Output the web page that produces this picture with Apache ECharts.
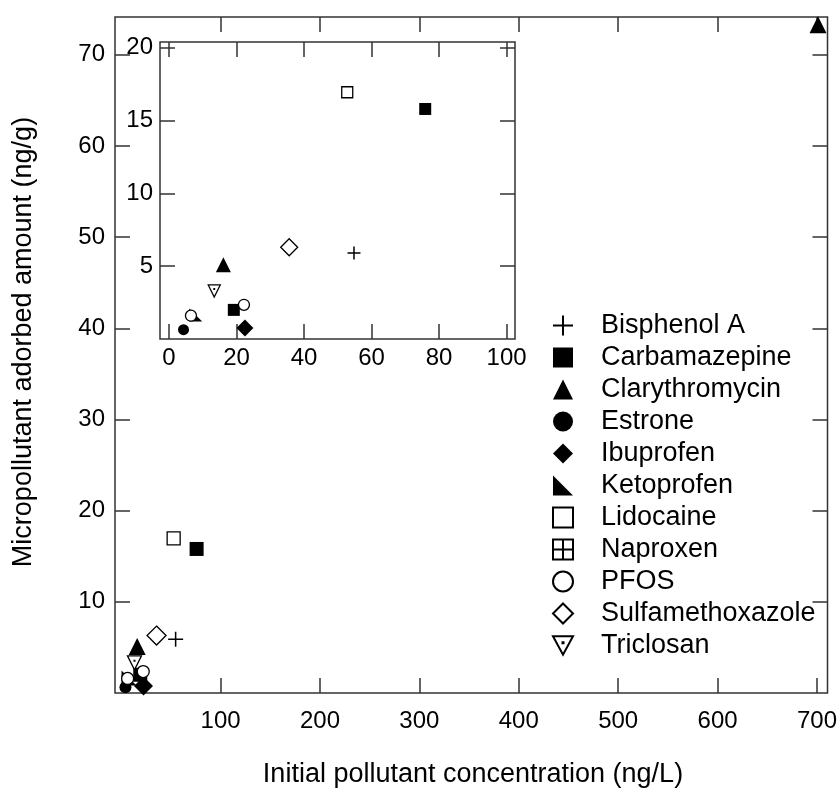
<!DOCTYPE html>
<html>
<head>
<meta charset="utf-8">
<script src="https://cdn.jsdelivr.net/npm/echarts@6/dist/echarts.min.js"></script>
<style>html,body{margin:0;padding:0;background:#fff}#c{width:840px;height:789px}</style>
</head>
<body>
<div id="c"></div>
<script>
// ---- data ----
const pollutants = ['Bisphenol A', 'Carbamazepine', 'Clarythromycin', 'Estrone', 'Ibuprofen', 'Ketoprofen', 'Lidocaine', 'Naproxen', 'PFOS', 'Sulfamethoxazole', 'Triclosan'];
const bisphenolA = [[54.8, 5.9]];
const carbamazepine = [[75.9, 15.8], [19.2, 2.0]];
const clarythromycin = [[16.1, 5.1], [701, 73.3]];
const estrone = [[4.3, 0.64]];
const ibuprofen = [[22.5, 0.76]];
const ketoprofen = [[7.9, 1.65]];
const lidocaine = [[52.8, 16.95]];
const naproxen = [];
const pfos = [[6.5, 1.6], [22.2, 2.35]];
const sulfamethoxazole = [[35.6, 6.3]];
const triclosan = [[13.4, 3.3]];
const mainXTicks = [100, 200, 300, 400, 500, 600, 700];
const mainYTicks = [10, 20, 30, 40, 50, 60, 70];
const insetXTicks = [0, 20, 40, 60, 80, 100];
const insetYTicks = [5, 10, 15, 20];
const xTitle = 'Initial pollutant concentration (ng/L)';
const yTitle = 'Micropollutant adorbed amount (ng/g)';

const FONT = 'Liberation Sans, Arial, sans-serif';
const seriesData = [bisphenolA, carbamazepine, clarythromycin, estrone, ibuprofen, ketoprofen, lidocaine, naproxen, pfos, sulfamethoxazole, triclosan];

const filled = {color: '#000', opacity: 1};
const open = {color: '#fff', borderColor: '#000', borderWidth: 1.3, opacity: 1};
const stroke = {color: 'rgba(0,0,0,0)', borderColor: '#000', borderWidth: 1.5, opacity: 1};
const styles = [
  {symbol: 'path://M6,0 L6,12 M0,6 L12,6', size: 15, item: stroke},
  {symbol: 'rect', size: 14, item: filled},
  {symbol: 'triangle', size: 17, item: filled},
  {symbol: 'circle', size: 12, item: filled},
  {symbol: 'diamond', size: 19, item: filled},
  {symbol: 'path://M0,0 L0,10 L10,10 Z', size: 15, item: filled},
  {symbol: 'rect', size: 13, item: open},
  {symbol: 'path://M0,0 L10,0 L10,10 L0,10 Z M5,0 L5,10 M0,5 L10,5', size: 13, item: open},
  {symbol: 'circle', size: 12, item: open},
  {symbol: 'diamond', size: 19, item: open},
  {symbol: 'path://M0,0 L12,0 L6,11 Z M5.7,3.5 L6.3,3.5 L6.3,4.1 L5.7,4.1 Z', size: 14, item: open}
];

const TICK = {color: '#333', width: 1.5};
function valAxis(o) {
  return Object.assign({
    type: 'value', splitLine: {show: false}, axisLine: {show: false, onZero: false},
    axisLabel: {show: false}, z: 6
  }, o);
}
const ticks = (vals) => ({show: true, inside: true, length: 15, lineStyle: TICK, customValues: vals});
const lbl = (margin, vals) => ({show: true, margin: margin, color: '#000', fontSize: 24, fontFamily: FONT, customValues: vals});

const series = [];
pollutants.forEach((name, i) => {
  const s = styles[i];
  series.push({
    name: name, type: 'scatter', xAxisIndex: 0, yAxisIndex: 0, data: seriesData[i],
    symbol: s.symbol, symbolSize: s.size, itemStyle: s.item, clip: true, z: 7,
    emphasis: {disabled: true}
  });
});
pollutants.forEach((name, i) => {
  const s = styles[i];
  series.push({
    name: name, type: 'scatter', xAxisIndex: 2, yAxisIndex: 2, data: seriesData[i],
    symbol: s.symbol, symbolSize: Math.round(s.size * 0.88), itemStyle: s.item, clip: true, z: 8,
    emphasis: {disabled: true}
  });
});

const chart = echarts.init(document.getElementById('c'), null, {renderer: 'canvas'});
chart.setOption({
  animation: false,
  backgroundColor: '#fff',
  grid: [
    {left: 115, top: 17, width: 713, height: 676, show: true, borderColor: '#333', borderWidth: 1.5, z: 0},
    {left: 160, top: 42, width: 355, height: 297, show: true, borderColor: '#333', borderWidth: 1.5, backgroundColor: '#fff', z: 4}
  ],
  xAxis: [
    valAxis({gridIndex: 0, position: 'bottom', min: -6.2, max: 710.6, axisTick: ticks(mainXTicks), axisLabel: lbl(16, mainXTicks)}),
    valAxis({gridIndex: 0, position: 'top', min: -6.2, max: 710.6, axisTick: ticks(mainXTicks)}),
    valAxis({gridIndex: 1, position: 'bottom', min: -2.67, max: 102.5, axisTick: ticks(insetXTicks), axisLabel: lbl(7, insetXTicks)}),
    valAxis({gridIndex: 1, position: 'top', min: -2.67, max: 102.5, axisTick: ticks(insetXTicks)})
  ],
  yAxis: [
    valAxis({gridIndex: 0, position: 'left', min: 0, max: 74.15, axisTick: ticks(mainYTicks), axisLabel: lbl(10, mainYTicks)}),
    valAxis({gridIndex: 0, position: 'right', min: 0, max: 74.15, axisTick: ticks(mainYTicks)}),
    valAxis({gridIndex: 1, position: 'left', min: 0, max: 20.4, axisTick: ticks(insetYTicks), axisLabel: lbl(7, insetYTicks)}),
    valAxis({gridIndex: 1, position: 'right', min: 0, max: 20.4, axisTick: ticks(insetYTicks)})
  ],
  legend: {
    data: pollutants, orient: 'vertical', left: 552, top: 312, padding: 0,
    itemWidth: 20, itemHeight: 20, itemGap: 5, selectedMode: false,
    textStyle: {fontFamily: FONT, fontSize: 27, lineHeight: 27, color: '#000', padding: [0, 0, 0, 23]}
  },
  graphic: [
    {type: 'text', x: 473, y: 775, style: {text: xTitle, fontFamily: FONT, fontSize: 27, fill: '#000', align: 'center', verticalAlign: 'middle'}},
    {type: 'text', x: 24, y: 342, rotation: Math.PI / 2, style: {text: yTitle, fontFamily: FONT, fontSize: 27, fill: '#000', align: 'center', verticalAlign: 'middle'}}
  ],
  series: series
});
</script>
</body>
</html>
